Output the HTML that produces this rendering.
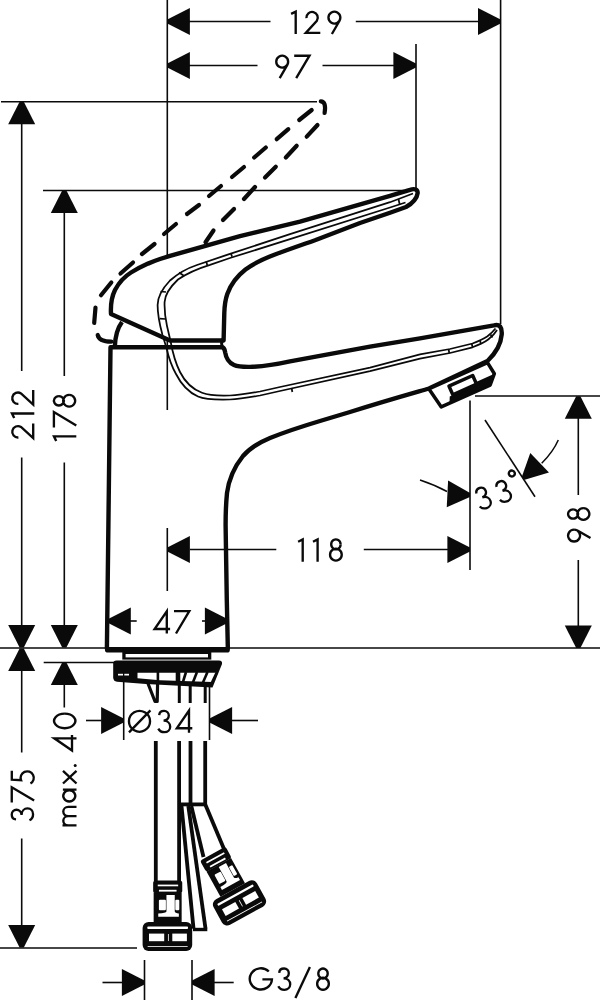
<!DOCTYPE html>
<html><head><meta charset="utf-8"><style>
html,body{margin:0;padding:0;background:#fff;}
svg{display:block;}
text{font-family:"Liberation Sans",sans-serif;fill:#0a0a0a;}
</style></head><body>
<svg width="600" height="1000" viewBox="0 0 600 1000">
<rect width="600" height="1000" fill="#fff"/>
<g stroke="#0a0a0a" fill="none">
<line x1="167.3" y1="0" x2="167.3" y2="255" stroke-width="1.6"/>
<line x1="167.3" y1="340" x2="167.3" y2="410" stroke-width="1.6"/>
<line x1="167.3" y1="528" x2="167.3" y2="591" stroke-width="1.6"/>
<line x1="500.6" y1="0" x2="500.6" y2="324" stroke-width="1.6"/>
<line x1="416" y1="44" x2="416" y2="189" stroke-width="1.6"/>
<polygon points="167.30,19.40 189.90,8.00 189.90,35.00 167.30,23.60" fill="#0a0a0a" stroke="none"/>
<polygon points="500.60,23.60 478.00,35.00 478.00,8.00 500.60,19.40" fill="#0a0a0a" stroke="none"/>
<line x1="189" y1="21.5" x2="270.5" y2="21.5" stroke-width="1.6"/>
<line x1="355.8" y1="21.5" x2="478" y2="21.5" stroke-width="1.6"/>
<g transform="translate(0,0)" stroke-width="2.35" fill="none"><path transform="translate(290.5,10.5)" d="M0.6,3.4 L5.2,1.15 V23.5"/><path transform="translate(304.5,10.5)" d="M1.9,7.6 A5.7,5.7 0 1 1 12.4,10.2 L1.3,22.4 H15.8"/><path transform="translate(327.3,10.5)" d="M13.05,7.1 A5.95,5.95 0 1 1 13.05,7.05 M12.4,10.0 L4.6,23.5"/></g>
<polygon points="167.30,63.40 189.90,52.00 189.90,79.00 167.30,67.60" fill="#0a0a0a" stroke="none"/>
<polygon points="416.00,67.60 393.40,79.00 393.40,52.00 416.00,63.40" fill="#0a0a0a" stroke="none"/>
<line x1="189" y1="65.5" x2="257.5" y2="65.5" stroke-width="1.6"/>
<line x1="322.5" y1="65.5" x2="394" y2="65.5" stroke-width="1.6"/>
<g transform="translate(0,0)" stroke-width="2.35" fill="none"><path transform="translate(275.1,54.6)" d="M13.05,7.1 A5.95,5.95 0 1 1 13.05,7.05 M12.4,10.0 L4.6,23.5"/><path transform="translate(294.2,54.6)" d="M0,1.1 H15.3 L2.0,23.5"/></g>
<line x1="1" y1="101.7" x2="317" y2="101.7" stroke-width="1.6"/>
<line x1="43" y1="190.5" x2="404" y2="190.5" stroke-width="1.6"/>
<polygon points="23.80,101.70 35.20,124.30 8.20,124.30 19.60,101.70" fill="#0a0a0a" stroke="none"/>
<polygon points="19.60,647.50 8.20,624.90 35.20,624.90 23.80,647.50" fill="#0a0a0a" stroke="none"/>
<line x1="21.7" y1="124" x2="21.7" y2="371" stroke-width="1.6"/>
<line x1="21.7" y1="457.5" x2="21.7" y2="625" stroke-width="1.6"/>
<polygon points="66.40,190.50 77.80,213.10 50.80,213.10 62.20,190.50" fill="#0a0a0a" stroke="none"/>
<polygon points="62.20,647.50 50.80,624.90 77.80,624.90 66.40,647.50" fill="#0a0a0a" stroke="none"/>
<line x1="64.3" y1="213" x2="64.3" y2="376" stroke-width="1.6"/>
<line x1="64.3" y1="462.5" x2="64.3" y2="625" stroke-width="1.6"/>
<line x1="0" y1="648" x2="108" y2="648" stroke-width="1.6"/>
<line x1="228" y1="648" x2="600" y2="648" stroke-width="1.6"/>
<line x1="475" y1="396" x2="600" y2="396" stroke-width="1.6"/>
<line x1="470" y1="400.5" x2="470" y2="570" stroke-width="1.6"/>
<polygon points="580.40,396.20 591.80,418.80 564.80,418.80 576.20,396.20" fill="#0a0a0a" stroke="none"/>
<polygon points="576.20,648.00 564.80,625.40 591.80,625.40 580.40,648.00" fill="#0a0a0a" stroke="none"/>
<line x1="578.3" y1="418" x2="578.3" y2="495" stroke-width="1.6"/>
<line x1="578.3" y1="560" x2="578.3" y2="626" stroke-width="1.6"/>
<polygon points="167.30,547.40 189.90,536.00 189.90,563.00 167.30,551.60" fill="#0a0a0a" stroke="none"/>
<polygon points="470.00,551.60 447.40,563.00 447.40,536.00 470.00,547.40" fill="#0a0a0a" stroke="none"/>
<line x1="190" y1="549.5" x2="276.3" y2="549.5" stroke-width="1.6"/>
<line x1="363.8" y1="549.5" x2="448" y2="549.5" stroke-width="1.6"/>
<g transform="translate(0,0)" stroke-width="2.35" fill="none"><path transform="translate(297.5,538.3)" d="M0.6,3.4 L5.2,1.15 V23.5"/><path transform="translate(312.4,538.3)" d="M0.6,3.4 L5.2,1.15 V23.5"/><path transform="translate(328.9,538.3)" d="M11.7,6.1 A4.7,4.95 0 1 1 11.7,6.05 M12.85,16.4 A5.85,5.95 0 1 1 12.85,16.35"/></g>
<polygon points="108.20,618.90 130.80,607.50 130.80,634.50 108.20,623.10" fill="#0a0a0a" stroke="none"/>
<polygon points="227.50,623.10 204.90,634.50 204.90,607.50 227.50,618.90" fill="#0a0a0a" stroke="none"/>
<line x1="130" y1="621" x2="136.7" y2="621" stroke-width="1.6"/>
<line x1="202" y1="621" x2="205" y2="621" stroke-width="1.6"/>
<g transform="translate(0,0)" stroke-width="2.35" fill="none"><path transform="translate(153.6,610)" d="M13.2,23.5 V1.3 L1.0,19.0 H16.5"/><path transform="translate(174,610)" d="M0,1.1 H15.3 L2.0,23.5"/></g>
<line x1="485" y1="420" x2="535" y2="496.7" stroke-width="1.6"/>
<polygon points="521.85,476.78 530.28,452.92 548.96,472.41 524.75,479.82" fill="#0a0a0a" stroke="none"/>
<path d="M541.7,463.3 Q553,452 558.3,440" stroke-width="1.5" />
<polygon points="469.90,497.10 446.75,507.35 448.10,480.39 470.10,492.90" fill="#0a0a0a" stroke="none"/>
<path d="M420,480 Q435,485 447,491.5" stroke-width="1.5" />
<polygon points="23.80,648.50 35.20,671.10 8.20,671.10 19.60,648.50" fill="#0a0a0a" stroke="none"/>
<polygon points="19.60,947.50 8.20,924.90 35.20,924.90 23.80,947.50" fill="#0a0a0a" stroke="none"/>
<line x1="21.7" y1="671" x2="21.7" y2="752.5" stroke-width="1.6"/>
<line x1="21.7" y1="838.5" x2="21.7" y2="926" stroke-width="1.6"/>
<line x1="0" y1="948" x2="137" y2="948" stroke-width="1.6"/>
<line x1="43.7" y1="662.5" x2="115" y2="662.5" stroke-width="1.6"/>
<polygon points="66.40,662.50 77.80,685.10 50.80,685.10 62.20,662.50" fill="#0a0a0a" stroke="none"/>
<line x1="64.3" y1="685" x2="64.3" y2="707.5" stroke-width="1.6"/>
<line x1="123.7" y1="672.5" x2="123.7" y2="740" stroke-width="1.6"/>
<line x1="209.5" y1="672" x2="209.5" y2="740" stroke-width="1.6"/>
<polygon points="123.70,722.60 101.10,734.00 101.10,707.00 123.70,718.40" fill="#0a0a0a" stroke="none"/>
<polygon points="209.50,718.40 232.10,707.00 232.10,734.00 209.50,722.60" fill="#0a0a0a" stroke="none"/>
<line x1="86" y1="720.5" x2="101.5" y2="720.5" stroke-width="1.6"/>
<line x1="231.5" y1="720.5" x2="258" y2="720.5" stroke-width="1.6"/>
<line x1="144.5" y1="960" x2="144.5" y2="1000" stroke-width="1.6"/>
<line x1="192" y1="960" x2="192" y2="1000" stroke-width="1.6"/>
<polygon points="144.50,984.60 121.90,996.00 121.90,969.00 144.50,980.40" fill="#0a0a0a" stroke="none"/>
<polygon points="192.00,980.40 214.60,969.00 214.60,996.00 192.00,984.60" fill="#0a0a0a" stroke="none"/>
<line x1="102.5" y1="982.5" x2="122.5" y2="982.5" stroke-width="1.6"/>
<line x1="214" y1="982.5" x2="233.7" y2="982.5" stroke-width="1.6"/>
<g transform="translate(10.8,439.4) rotate(-90)" stroke-width="2.35" fill="none"><path transform="translate(0,0)" d="M1.9,7.6 A5.7,5.7 0 1 1 12.4,10.2 L1.3,22.4 H15.8"/><path transform="translate(20.7,0)" d="M0.6,3.4 L5.2,1.15 V23.5"/><path transform="translate(33.6,0)" d="M1.9,7.6 A5.7,5.7 0 1 1 12.4,10.2 L1.3,22.4 H15.8"/></g>
<g transform="translate(52.8,441.5) rotate(-90)" stroke-width="2.35" fill="none"><path transform="translate(0,0)" d="M0.6,3.4 L5.2,1.15 V23.5"/><path transform="translate(14.1,0)" d="M0,1.1 H15.3 L2.0,23.5"/><path transform="translate(33.7,0)" d="M11.7,6.1 A4.7,4.95 0 1 1 11.7,6.05 M12.85,16.4 A5.85,5.95 0 1 1 12.85,16.35"/></g>
<g transform="translate(567,542.7) rotate(-90)" stroke-width="2.35" fill="none"><path transform="translate(0,0)" d="M13.05,7.1 A5.95,5.95 0 1 1 13.05,7.05 M12.4,10.0 L4.6,23.5"/><path transform="translate(21.7,0)" d="M11.7,6.1 A4.7,4.95 0 1 1 11.7,6.05 M12.85,16.4 A5.85,5.95 0 1 1 12.85,16.35"/></g>
<g transform="translate(10.65,821.6) rotate(-90)" stroke-width="2.35" fill="none"><path transform="translate(0,0)" d="M2.2,5.4 C2.4,2.4 4.6,1.1 7.1,1.1 C9.8,1.1 11.8,3.2 11.8,5.8 C11.8,8.6 9.7,10.7 6.6,10.9 C10.5,11.0 13.2,13.6 13.2,16.9 C13.2,20.1 10.6,22.4 7.4,22.4 C4.6,22.4 2.3,20.8 1.3,18.8"/><path transform="translate(19.1,0)" d="M0,1.1 H15.3 L2.0,23.5"/><path transform="translate(37,0)" d="M13.9,1.15 H5.0 L4.4,10.4 A6.5,6.6 0 1 1 1.1,19.8"/></g>
<g transform="translate(53,753) rotate(-90)" stroke-width="2.35" fill="none"><path transform="translate(1.5,0)" d="M13.2,23.5 V1.3 L1.0,19.0 H16.5"/><path transform="translate(23.6,0)" d="M15.75,11.75 A7.3,10.6 0 1 1 15.75,11.7"/></g>
<g transform="translate(53,826.6) rotate(-90)" stroke-width="2.35" fill="none"><path transform="translate(0,0)" d="M1.15,23.5 V9.5 M1.15,15.2 A4.62,4.9 0 0 1 10.4,15.2 V23.5 M10.4,15.2 A4.62,4.9 0 0 1 19.65,15.2 V23.5"/><path transform="translate(24.4,0)" d="M11.9,16.3 A5.6,6.0 0 1 1 11.9,16.25 M12.55,9.9 V23.5"/><path transform="translate(42.4,0)" d="M0.7,10.0 L13.3,23.5 M13.3,10.0 L0.7,23.5"/><path transform="translate(59.5,0)" d="M1.6,22.2 h0.1" stroke-linecap="round" stroke-width="3"/></g>
<g transform="translate(0,0)" stroke-width="2.35" fill="none"><path transform="translate(127.8,709.8)" d="M22.25,11.55 A10.55,10.4 0 1 1 22.25,11.5 M1.2,22.6 L22.6,0.6"/><path transform="translate(157,709.8)" d="M2.2,5.4 C2.4,2.4 4.6,1.1 7.1,1.1 C9.8,1.1 11.8,3.2 11.8,5.8 C11.8,8.6 9.7,10.7 6.6,10.9 C10.5,11.0 13.2,13.6 13.2,16.9 C13.2,20.1 10.6,22.4 7.4,22.4 C4.6,22.4 2.3,20.8 1.3,18.8"/><path transform="translate(175.8,709.3)" d="M13.2,23.5 V1.3 L1.0,19.0 H16.5"/></g>
<g transform="translate(0,0)" stroke-width="2.35" fill="none"><path transform="translate(248.6,967.4)" d="M20.2,4.1 A11.1,10.6 0 1 0 23.35,11.9 H13.8"/><path transform="translate(277,967.4)" d="M2.2,5.4 C2.4,2.4 4.6,1.1 7.1,1.1 C9.8,1.1 11.8,3.2 11.8,5.8 C11.8,8.6 9.7,10.7 6.6,10.9 C10.5,11.0 13.2,13.6 13.2,16.9 C13.2,20.1 10.6,22.4 7.4,22.4 C4.6,22.4 2.3,20.8 1.3,18.8"/><path transform="translate(294.6,967.4)" d="M0.8,30.5 L15.3,-0.5"/><path transform="translate(316,967.4)" d="M11.7,6.1 A4.7,4.95 0 1 1 11.7,6.05 M12.85,16.4 A5.85,5.95 0 1 1 12.85,16.35"/></g>
<g transform="translate(472.7,489) rotate(-18)" stroke-width="2.35" fill="none"><path transform="translate(0,0)" d="M2.2,5.4 C2.4,2.4 4.6,1.1 7.1,1.1 C9.8,1.1 11.8,3.2 11.8,5.8 C11.8,8.6 9.7,10.7 6.6,10.9 C10.5,11.0 13.2,13.6 13.2,16.9 C13.2,20.1 10.6,22.4 7.4,22.4 C4.6,22.4 2.3,20.8 1.3,18.8"/><path transform="translate(21.2,0)" d="M2.2,5.4 C2.4,2.4 4.6,1.1 7.1,1.1 C9.8,1.1 11.8,3.2 11.8,5.8 C11.8,8.6 9.7,10.7 6.6,10.9 C10.5,11.0 13.2,13.6 13.2,16.9 C13.2,20.1 10.6,22.4 7.4,22.4 C4.6,22.4 2.3,20.8 1.3,18.8"/><path transform="translate(38.4,-6)" d="M6.6,3.4 A3.0,3.0 0 1 1 6.6,3.35"/></g>
<line x1="311.7" y1="110" x2="299.2" y2="120" stroke-width="4.2" stroke-linecap="round"/>
<line x1="288.3" y1="129.2" x2="276.7" y2="139.2" stroke-width="4.2" stroke-linecap="round"/>
<line x1="265.8" y1="147.5" x2="254.2" y2="157.5" stroke-width="4.2" stroke-linecap="round"/>
<line x1="244" y1="167" x2="232" y2="177" stroke-width="4.2" stroke-linecap="round"/>
<line x1="221" y1="186" x2="209" y2="196" stroke-width="4.2" stroke-linecap="round"/>
<line x1="199" y1="205" x2="187" y2="214" stroke-width="4.2" stroke-linecap="round"/>
<line x1="176" y1="224" x2="164" y2="234" stroke-width="4.2" stroke-linecap="round"/>
<line x1="154.5" y1="244" x2="142" y2="254" stroke-width="4.2" stroke-linecap="round"/>
<line x1="133" y1="262.5" x2="120.5" y2="273.5" stroke-width="4.2" stroke-linecap="round"/>
<line x1="111.3" y1="282.5" x2="101" y2="295.2" stroke-width="4.2" stroke-linecap="round"/>
<line x1="95.5" y1="307.5" x2="94.2" y2="323" stroke-width="4.2" stroke-linecap="round"/>
<line x1="317.5" y1="125" x2="306.7" y2="136.7" stroke-width="4.2" stroke-linecap="round"/>
<line x1="296.7" y1="145.8" x2="285.8" y2="157.5" stroke-width="4.2" stroke-linecap="round"/>
<line x1="275.8" y1="166.7" x2="265" y2="177.5" stroke-width="4.2" stroke-linecap="round"/>
<line x1="255" y1="187" x2="244" y2="199" stroke-width="4.2" stroke-linecap="round"/>
<line x1="234" y1="209" x2="223" y2="220" stroke-width="4.2" stroke-linecap="round"/>
<line x1="213.5" y1="230.5" x2="205.5" y2="242.2" stroke-width="4.2" stroke-linecap="round"/>
<path d="M320.8,101.3 Q326.5,101.5 324.6,113" stroke-width="4.2" stroke-linecap="round"/>
<path d="M97.7,335 Q99,341.5 111.3,341.7" stroke-width="4.2" stroke-linecap="round"/>
<path d="M413,193.5 L390,202.2 L290,234.2 L230,253.8 L197,265 C187,268.3 178,273.5 170,280.5 C161,290 157.6,297 157.6,305 C157.6,315 159.5,324 162.5,335 L166.5,348 C168.5,357 171.5,366 176,374 C181,384 188,392 198,396.5 C205,399.5 214,400 230,399.5 C240,399 247,397.8 260,395.5 L280,391 L370,371.2 L420,358.7 L450,353 L472.5,347.3 C480,344.5 485,342 488.5,339.3 C492,336.5 495,333.5 497,330" stroke-width="1.75" />
<path d="M405.5,202.5 L390,207.5 L290,239.2 L230,258 L210,264.8 C198,268.5 188,272.5 178,279.5 C169,288 165,295 164.6,302 C164.3,310 165.2,318 167,326 L170.5,341 C172.5,352 175.5,363 180,372 C185,382 192,389 202,392.8 C209,395.5 216,396 230,395.5 C240,395 247,393.8 260,391.5 L280,387 L370,367.7 L420,354.3 L450,349 L472.5,343.5 C480,340.5 484,338.5 487.5,336.2 C491,333.5 493.5,331 495.5,328.5" stroke-width="1.75" />
<line x1="179" y1="272.6" x2="183.5" y2="275.6" stroke-width="1.75"/>
<line x1="160.5" y1="291.5" x2="166" y2="292" stroke-width="1.75"/>
<line x1="159.8" y1="318.6" x2="165.5" y2="319" stroke-width="1.75"/>
<line x1="206.2" y1="261.5" x2="207.3" y2="265.2" stroke-width="1.75"/>
<line x1="231" y1="253.2" x2="232" y2="256.8" stroke-width="1.75"/>
<line x1="398.5" y1="199" x2="399.7" y2="204.5" stroke-width="1.75"/>
<line x1="291.7" y1="388" x2="292.3" y2="392" stroke-width="1.75"/>
<line x1="448.5" y1="349" x2="449.3" y2="353" stroke-width="1.75"/>
<line x1="471.7" y1="343.6" x2="472.6" y2="347.4" stroke-width="1.75"/>
<line x1="480" y1="340.6" x2="481" y2="344.2" stroke-width="1.75"/>
<line x1="490.5" y1="334.5" x2="492.5" y2="337.5" stroke-width="1.75"/>
<path d="M111,314 C110.5,305 111.8,296.5 115,290 C118.5,283.5 124.5,276.5 131,272.5 C136,269.5 141,266.8 148,263.6 C153,261.5 157,260 160,259 L170,255.9 L240,236.2 L300,221.6 L390,195.8 L410,189.8 C414.5,188.3 418,189.3 417.6,193.3 C417.2,197.5 413,203.3 406,207 L390,212.8 L360,223 L315,240.2 C300,245.5 287,250 275,254.5 C263,259 253,264 245.5,269.5 C236.5,276.5 230.5,285 227.3,294 C225.2,300 224.5,306 224.3,313 L223.6,340.5 L170,340.5 Z" stroke-width="4.4" stroke-linejoin="round"/>
<path d="M223.4,338.5 Q219.8,343.5 223.2,347.8" stroke-width="3.0" />
<path d="M114.8,347 C115.2,336 117.5,328 122,322" stroke-width="4.4" />
<path d="M110.5,347.2 L221.8,347.2 C224,347.4 224.8,349.2 225.2,352.5 C226,358 228.5,362.5 234,365 C238,366.8 243,367 250,366.9 C262,366.5 274,364.8 290,361.3 L370,346.6 L420,338.3 L494,325.3 C499.5,323.8 502.2,327 501.7,334.5 C501,343 497,352 487.5,361 L429,388.5 C410,394 385,401 350,412 L320,421 C305,425.5 285,432 270,438 C258,443 249,449 243,456 C235,466 229,478 227,493 C225.8,505 225.6,515 225.6,525 L226.8,600 L227.8,647 Q227.8,649.7 226,649.7 L108.5,649.7 Q106.9,649.7 106.9,648 L108.7,500 L110.5,347.2 Z" stroke-width="4.4" stroke-linejoin="round"/>
<g transform="translate(428.8,388.8) rotate(-24.1)"><path d="M0,0 L64.3,0 L66,13 L57.5,21.6 L4,21.6 Z" stroke-width="3.5" fill="#fff" stroke-linejoin="round"/><path d="M16,15.5 L46,15.5 L46,13 L65.5,13 L57.5,21.6 L13,21.6 Z" fill="#0a0a0a" stroke="none"/><rect x="19.5" y="5.8" width="26" height="9.5" stroke-width="3.5" fill="#fff" stroke-linejoin="round"/><rect x="23" y="8.6" width="19" height="3.8" fill="#fff" stroke="none"/></g>
<path d="M105,647 L229.8,647 L229.8,650 Q229.8,652.6 227,652.6 L108,652.6 Q105,652.6 105,650 Z" fill="#0a0a0a" stroke="none"/>
<rect x="122.3" y="651" width="89" height="8.6" fill="#0a0a0a" stroke="none"/>
<rect x="125.6" y="654" width="82.4" height="3.4" fill="#fff" stroke="none"/>
<path d="M113.2,663.5 Q113.2,660.5 116.5,660.5 L219,660.5 Q222.6,660.5 222,664 L212.5,687.5 L146,684 L117,681.8 Q113.2,681 113.2,677.5 Z" fill="#0a0a0a" stroke="none"/>
<rect x="118" y="673.8" width="5" height="1.7" fill="#fff" stroke="none"/>
<rect x="124.3" y="673.8" width="4.7" height="1.7" fill="#fff" stroke="none"/>
<path d="M137.5,672.7 L216.5,672.7 L212.3,682 L160,680.2 L137.5,678.2 Z" fill="#fff" stroke="none"/>
<rect x="156.6" y="672" width="2.6" height="9" fill="#0a0a0a" stroke="none"/>
<rect x="175.7" y="672" width="4.6" height="10" fill="#0a0a0a" stroke="none"/>
<line x1="186" y1="672" x2="182.5" y2="683.5" stroke-width="2.6"/>
<line x1="197" y1="672" x2="192.5" y2="683.5" stroke-width="2.6"/>
<line x1="207.5" y1="672" x2="202.5" y2="683.5" stroke-width="2.6"/>
<line x1="217" y1="672" x2="211.5" y2="683.5" stroke-width="2.6"/>
<path d="M148,683.5 L155,701.5 L157.2,701.5 L157.6,683.5" stroke-width="3.2" stroke-linejoin="round"/>
<line x1="179.3" y1="684" x2="179.3" y2="703" stroke-width="3"/>
<line x1="190.2" y1="684" x2="190.2" y2="703" stroke-width="3"/>
<line x1="205.2" y1="684" x2="205.2" y2="703" stroke-width="3"/>
<line x1="155.8" y1="741" x2="155.8" y2="881" stroke-width="3.8"/>
<line x1="179.1" y1="741" x2="179.1" y2="881" stroke-width="3.8"/>
<line x1="190.5" y1="741" x2="190.5" y2="805" stroke-width="3.8"/>
<line x1="205.2" y1="741" x2="205.2" y2="805" stroke-width="3.8"/>
<line x1="179.1" y1="804.4" x2="207" y2="804.4" stroke-width="3.8"/>
<line x1="181.5" y1="806" x2="193.5" y2="928.5" stroke-width="3.8"/>
<line x1="188.3" y1="806" x2="205.5" y2="928.5" stroke-width="3.8"/>
<line x1="193" y1="929.5" x2="207.3" y2="929.5" stroke-width="3.4"/>
<line x1="191.3" y1="806" x2="203.5" y2="857" stroke-width="3.8"/>
<line x1="205.5" y1="805" x2="224" y2="849" stroke-width="3.8"/>
<g transform="translate(167.65,880.5)" stroke="none"><rect x="-14.5" y="0" width="29.1" height="12.8" rx="2.5" fill="#0a0a0a"/><rect x="-9.9" y="4.1" width="20.4" height="1.7" fill="#fff"/><rect x="-8.7" y="9.3" width="17.6" height="1.8" fill="#fff"/><rect x="-14" y="12.5" width="28" height="29" fill="#0a0a0a"/><rect x="-8.75" y="19.3" width="7" height="10.5" rx="1" fill="#fff"/><rect x="7.65" y="19.3" width="4" height="10.5" rx="1" fill="#fff"/><path d="M-1.2,14.6 L7.1,14.6 L7.1,31 Q7.4,32.8 11.2,32.9 L11.2,36.2 L-9.4,36.2 L-9.4,32.9 Q-1.5,32.8 -1.2,31 Z" fill="#fff"/><rect x="-25.05" y="41.4" width="49.6" height="29.2" rx="6" fill="#0a0a0a"/><rect x="-20.4" y="46.1" width="40.8" height="2.3" rx="1" fill="#fff"/><rect x="-18.65" y="53.1" width="15.2" height="7.6" fill="#fff"/><rect x="4.65" y="53.1" width="14.6" height="7.6" fill="#fff"/><rect x="0.3" y="53.5" width="0.8" height="7" fill="#fff"/><rect x="-20" y="65.6" width="40" height="0.8" fill="#fff"/></g>
<g transform="translate(212.75,853.7) rotate(-28.8)" stroke="none"><rect x="-14.5" y="0" width="29.1" height="12.8" rx="2.5" fill="#0a0a0a"/><rect x="-9.9" y="4.1" width="20.4" height="1.7" fill="#fff"/><rect x="-8.7" y="9.3" width="17.6" height="1.8" fill="#fff"/><rect x="-14" y="12.5" width="28" height="29" fill="#0a0a0a"/><rect x="-8.75" y="19.3" width="7" height="10.5" rx="1" fill="#fff"/><rect x="7.65" y="19.3" width="4" height="10.5" rx="1" fill="#fff"/><path d="M-1.2,14.6 L7.1,14.6 L7.1,31 Q7.4,32.8 11.2,32.9 L11.2,36.2 L-9.4,36.2 L-9.4,32.9 Q-1.5,32.8 -1.2,31 Z" fill="#fff"/><rect x="-25.05" y="41.4" width="49.6" height="29.2" rx="6" fill="#0a0a0a"/><rect x="-20.4" y="46.1" width="40.8" height="2.3" rx="1" fill="#fff"/><rect x="-18.65" y="53.1" width="15.2" height="7.6" fill="#fff"/><rect x="4.65" y="53.1" width="14.6" height="7.6" fill="#fff"/><rect x="0.3" y="53.5" width="0.8" height="7" fill="#fff"/><rect x="-20" y="65.6" width="40" height="0.8" fill="#fff"/></g>
</g>
</svg>
</body></html>
